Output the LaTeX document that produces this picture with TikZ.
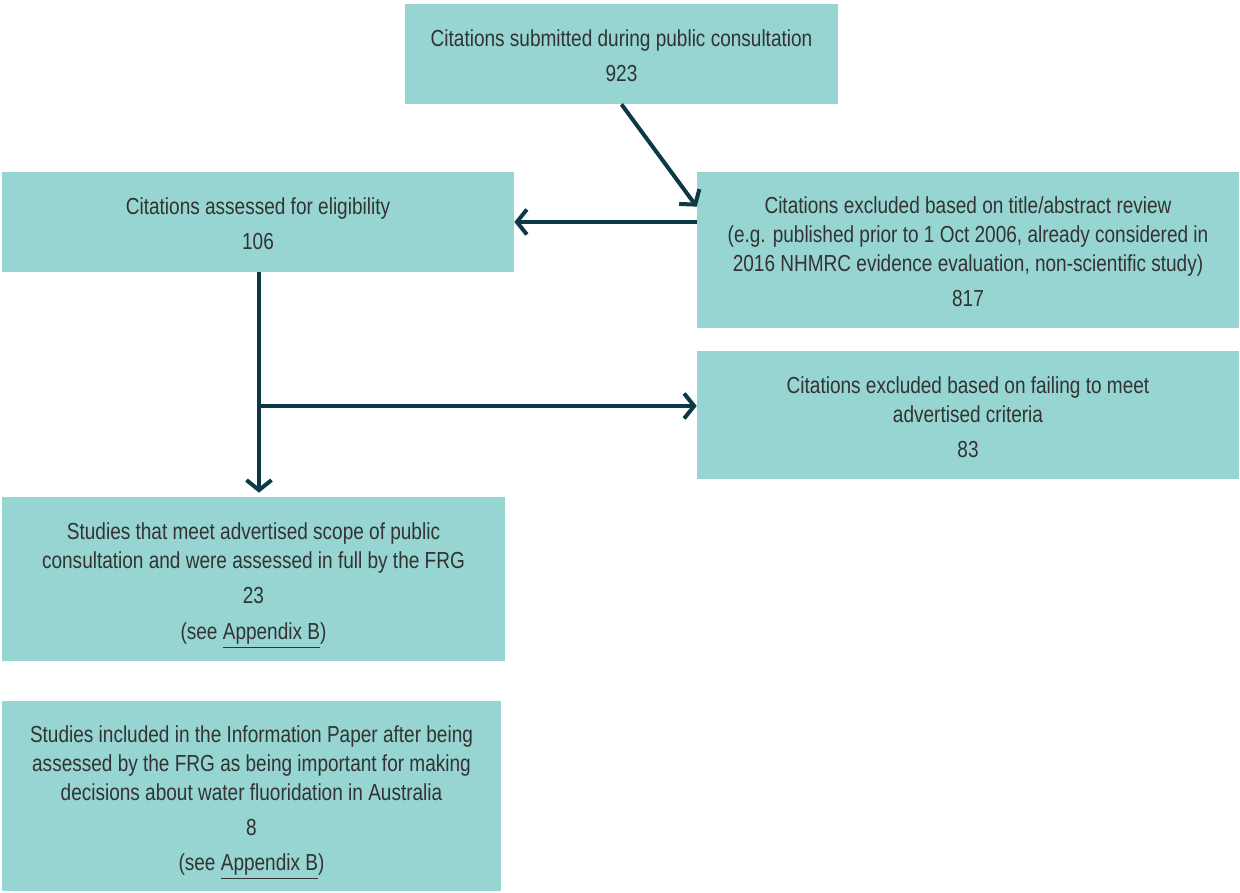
\documentclass[tikz,border=0pt]{standalone}
\usepackage{fontspec}
\setmainfont[FakeStretch=0.82]{Liberation Sans}
\usetikzlibrary{arrows.meta}
\definecolor{boxfill}{HTML}{96D5D2}
\definecolor{arrowcol}{HTML}{0B3A46}
\definecolor{textcol}{HTML}{333333}
\newcommand{\applink}[1]{\raisebox{0pt}[\height][0pt]{\underline{#1}}}
\newcommand{\topgap}[1][11.7pt]{\rule{0pt}{#1}}
\begin{document}
\begin{tikzpicture}[x=0.02cm,y=-0.02cm,
		flowbox/.style={fill=boxfill,inner sep=0pt,align=center,text=textcol,
			font=\fontsize{13.2}{16.5}\selectfont},
		flowarrow/.style={draw=arrowcol,line width=0.08cm,
			-{Straight Barb[length=0.2cm,width=0.5cm]}}]
	\useasboundingbox (0,0) rectangle (1240,892);
	% boxes
	\node [flowbox,minimum width=8.66cm,minimum height=2cm] (submitted) at (621.5,54)
		{\topgap Citations submitted during public consultation\\[0.12cm] 923};
	\node [flowbox,minimum width=10.24cm,minimum height=2cm] (assessed) at (258,222)
		{\topgap Citations assessed for eligibility\\[0.12cm] 106};
	\node [flowbox,minimum width=10.84cm,minimum height=3.12cm] (exclTitle) at (968,250)
		{\topgap Citations excluded based on title/abstract review\\
		(e.g. published prior to 1 Oct 2006, already considered in\\
		2016 NHMRC evidence evaluation, non-scientific study)\\[0.12cm] 817};
	\node [flowbox,minimum width=10.84cm,minimum height=2.56cm] (exclCrit) at (968,415)
		{\topgap Citations excluded based on failing to meet\\
		advertised criteria\\[0.12cm] 83};
	\node [flowbox,minimum width=10.06cm,minimum height=3.28cm] (studies) at (253.5,579)
		{\topgap[14.9pt]Studies that meet advertised scope of public\\
		consultation and were assessed in full by the FRG\\[0.12cm] 23\\[0.14cm]
		(see \applink{Appendix B})};
	\node [flowbox,minimum width=9.98cm,minimum height=3.8cm] (included) at (251.5,796)
		{\topgap[14.9pt]Studies included in the Information Paper after being\\
		assessed by the FRG as being important for making\\
		decisions about water fluoridation in Australia\\[0.12cm] 8\\[0.12cm]
		(see \applink{Appendix B})};
	% arrows
	\draw [flowarrow] (submitted.south) -- ([yshift=-0.7cm]exclTitle.north west);
	\draw [flowarrow] (exclTitle.west |- assessed.east) -- (assessed.east);
	\draw [flowarrow,shorten >=0.08cm] ([xshift=0.02cm]assessed.south) -- ([xshift=0.02cm]assessed.south |- studies.north);
	\coordinate (branch) at (259,406);
	\draw [flowarrow] (branch) -- (branch -| exclCrit.west);
\end{tikzpicture}
\end{document}
